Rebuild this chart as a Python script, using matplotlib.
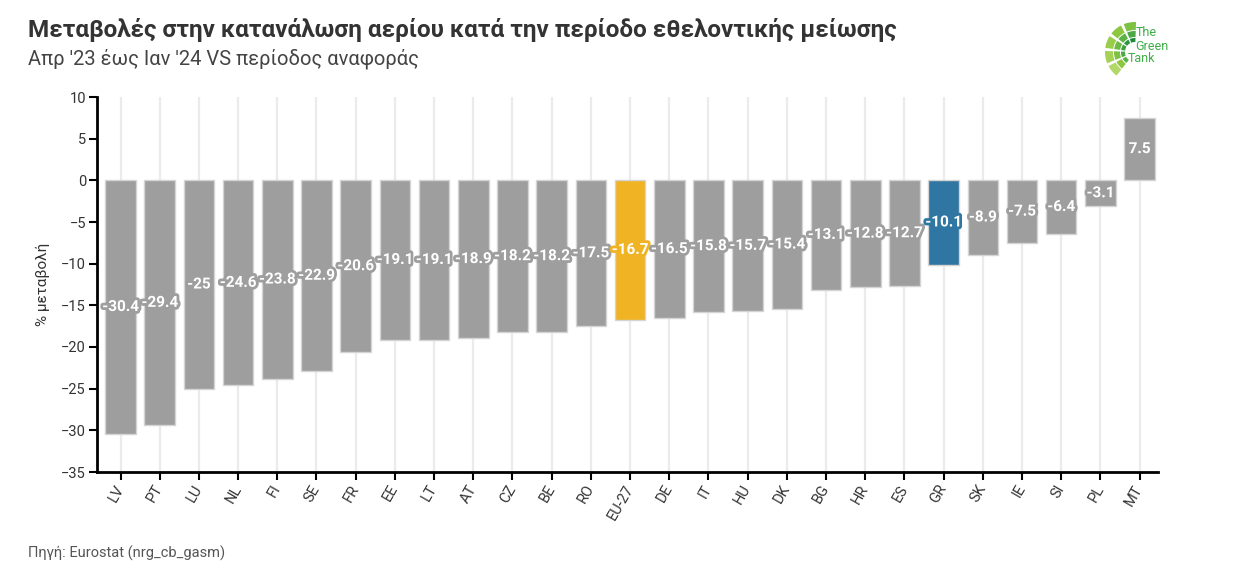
import matplotlib.pyplot as plt
import matplotlib.patheffects as pe
from matplotlib.patches import Wedge
import numpy as np

plt.rcParams['font.family'] = ['Roboto', 'DejaVu Sans']

countries = ['LV', 'PT', 'LU', 'NL', 'FI', 'SE', 'FR', 'EE', 'LT', 'AT', 'CZ', 'BE', 'RO',
             'EU-27', 'DE', 'IT', 'HU', 'DK', 'BG', 'HR', 'ES', 'GR', 'SK', 'IE', 'SI', 'PL', 'MT']
changes = [-30.4, -29.4, -25, -24.6, -23.8, -22.9, -20.6, -19.1, -19.1, -18.9, -18.2, -18.2, -17.5,
           -16.7, -16.5, -15.8, -15.7, -15.4, -13.1, -12.8, -12.7, -10.1, -8.9, -7.5, -6.4, -3.1, 7.5]
highlight = {'EU-27': '#f0b323', 'GR': '#2f76a2'}
grey = '#9e9e9e'

W, H = 1234, 584
fig = plt.figure(figsize=(W / 100, H / 100), dpi=100)
ax = fig.add_axes([97 / W, 1 - 472 / H, (1158 - 97) / W, (472 - 97) / H])

x = np.arange(len(countries))
colors = [highlight.get(c, grey) for c in countries]

for xi in x:
    ax.axvline(xi, color='#ebebeb', lw=1.6, zorder=0)

ax.bar(x, changes, width=0.78, color=colors, edgecolor='#d4d4d4', linewidth=1, zorder=2)

for xi, v, col in zip(x, changes, colors):
    ax.text(xi, v / 2, f"{v:g}", ha='center', va='center', color='white',
            fontsize=11, fontweight='bold', zorder=3,
            path_effects=[pe.withStroke(linewidth=4, foreground=col)])

ax.set_xlim(-0.6, len(countries) - 1 + 0.47)
ax.set_ylim(-35, 10)
ax.set_yticks(np.arange(-35, 11, 5))
ax.set_xticks(x)
ax.set_xticklabels(countries, rotation=60, ha='right', va='center', rotation_mode='anchor')
ax.tick_params(axis='x', length=6, width=1.5, pad=4, labelsize=10.5, colors='black', labelcolor='#333333')
ax.tick_params(axis='y', length=6, width=1.5, pad=2, labelsize=10.5, colors='black', labelcolor='#333333')

for s in ['top', 'right']:
    ax.spines[s].set_visible(False)
for s in ['left', 'bottom']:
    ax.spines[s].set_linewidth(2)
ax.set_ylabel('% μεταβολή', fontsize=11, color='#333333', labelpad=8)

fig.text(28 / W, 1 - 30 / H, 'Μεταβολές στην κατανάλωση αερίου κατά την περίοδο εθελοντικής μείωσης',
         fontsize=17.5, fontweight='bold', color='#333333', va='center')
fig.text(28 / W, 1 - 59 / H, "Απρ '23 έως Ιαν '24 VS περίοδος αναφοράς",
         fontsize=14.5, color='#444444', va='center')
fig.text(28 / W, 1 - 553 / H, 'Πηγή: Eurostat (nrg_cb_gasm)', fontsize=10.5, color='#555555', va='center')

# logo
lax = fig.add_axes([1095 / W, 1 - 72 / H, 60 / W, 62 / H])
lax.set_xlim(0, 60)
lax.set_ylim(62, 0)
lax.axis('off')
rings = [(30, 8, ['#b3d86a', '#a6d157', '#9acd4a', '#8dc63f', '#7dc242']),
         (21, 6, ['#8dc63f', '#7dc242', '#6dbb44', '#5bb245', '#4aa846']),
         (14, 4, ['#5bb245', '#4aa846', '#3aa043', '#2d9640', '#1f8a3b'])]
angles = np.linspace(-235, -85, 6)
for r, wd, cols in rings:
    for i in range(5):
        lax.add_patch(Wedge((40, 42), r, angles[i] + 3, angles[i + 1] - 3, width=wd,
                            facecolor=cols[i], edgecolor='none', clip_on=False))
fig.text(1136 / W, 1 - 33 / H, 'The', fontsize=9, color='#3fae49', va='center')
fig.text(1135 / W, 1 - 46 / H, 'Green', fontsize=9, color='#3fae49', va='center')
fig.text(1128 / W, 1 - 58 / H, 'Tank', fontsize=9, color='#3fae49', va='center')

fig.savefig('out.png', dpi=100)
